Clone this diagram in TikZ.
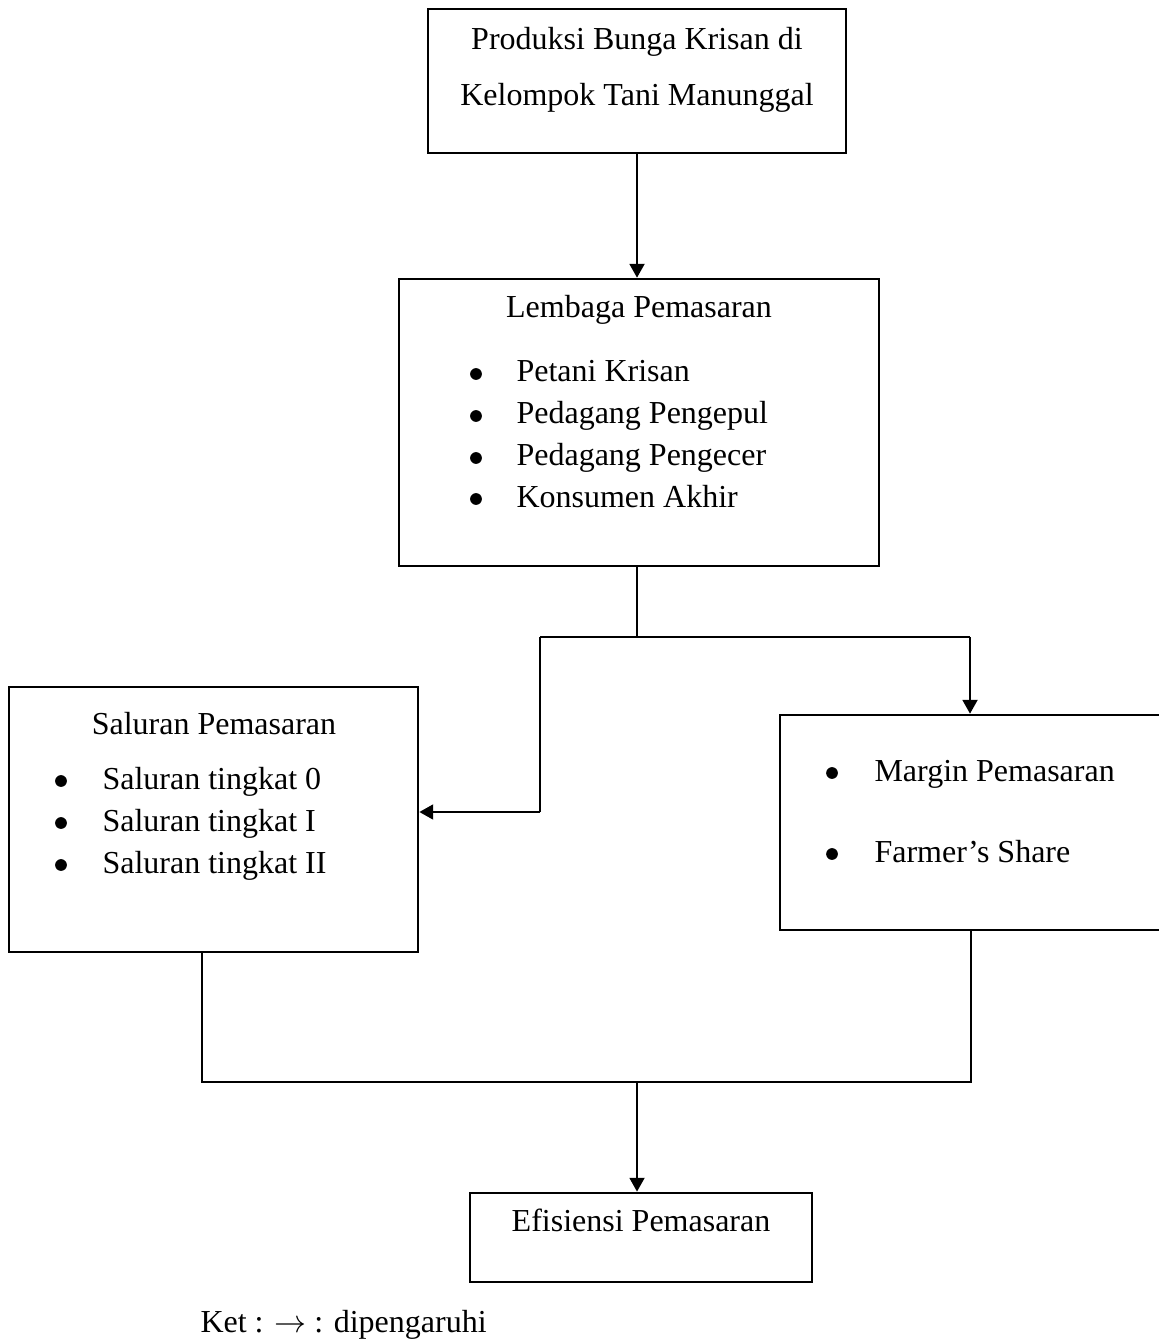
\documentclass[tikz,border=0pt]{standalone}
\usepackage{fontspec}
\setmainfont{Liberation Serif}
\usetikzlibrary{arrows.meta,positioning}

\begin{document}
\begin{tikzpicture}[x=0.375pt,y=-0.375pt,
  box/.style={rectangle,draw,line width=1pt,inner sep=0pt},
  txt/.style={inner sep=0pt,font=\fontsize{12}{14}\selectfont},
  item/.style={txt,anchor=base west},
  dot/.style={circle,fill,inner sep=0pt,minimum size=4.4pt},
  arr/.style={-{Triangle[length=5.2pt,width=5.6pt]},line width=0.8pt},
  thin/.style={line width=0.45pt}]
\useasboundingbox (0,0) rectangle (1158,1340);
% boxes
\node[box,minimum width=156.75pt,minimum height=54pt] (prod) at (637,81) {};
\node[box,minimum width=180pt,minimum height=107.6pt] (lembaga) at (639,422.5) {};
\node[box,minimum width=153.4pt,minimum height=99.4pt] (saluran) at (213.5,819.5) {};
\node[box,minimum width=144.4pt,minimum height=80.6pt] (margin) at (972.5,822.5) {};
\node[box,minimum width=128.25pt,minimum height=33.4pt] (efis) at (641,1237.5) {};
% texts
\node[txt,anchor=base] (prod1) at (637,50) {Produksi Bunga Krisan di};
\node[txt,anchor=base] (prod2) at (637,106) {Kelompok Tani Manunggal};
\node[txt,anchor=base] (lembagaT) at (639,318) {Lembaga Pemasaran};
\node[dot] (b1) at (476,374) {};
\node[item] (l1) at (516,382) {Petani Krisan};
\node[dot] (b2) at (476,416) {};
\node[item] (l2) at (516,424) {Pedagang Pengepul};
\node[dot] (b3) at (476,458) {};
\node[item] (l3) at (516,466) {Pedagang Pengecer};
\node[dot] (b4) at (476,499) {};
\node[item] (l4) at (516,507) {Konsumen Akhir};
\node[txt,anchor=base] (saluranT) at (214,734) {Saluran Pemasaran};
\node[dot] (b5) at (61,781) {};
\node[item] (s1) at (102,789) {Saluran tingkat 0};
\node[dot] (b6) at (61,823) {};
\node[item] (s2) at (102,831) {Saluran tingkat I};
\node[dot] (b7) at (61,865) {};
\node[item] (s3) at (102,873) {Saluran tingkat II};
\node[dot] (b8) at (832,773) {};
\node[item] (m1) at (874,781) {Margin Pemasaran};
\node[dot] (b9) at (832,854) {};
\node[item] (m2) at (874,862) {Farmer’s Share};
\node[txt,anchor=base] (efisT) at (641,1231) {Efisiensi Pemasaran};
\node[item] (ket) at (200,1332) {Ket : $\rightarrow$ : dipengaruhi};
% connectors
\coordinate (split) at (637,637);
\coordinate (splitL) at (540,637);
\coordinate (splitR) at (970,637);
\coordinate (bendL) at (540,812);
\coordinate (joinL) at (202,1082);
\coordinate (joinR) at (971,1082);
\coordinate (join) at (637,1083);
\draw[arr] (prod.south -| split) -- (split |- lembaga.north);
\draw[thin] (lembaga.south -| split) -- (split);
\draw[thin] (splitL) -- (splitR);
\draw[thin] (splitL) -- (bendL);
\draw[arr] (bendL) -- (bendL -| saluran.east);
\draw[arr] (splitR) -- (splitR |- margin.north);
\draw[thin] (saluran.south -| joinL) -- (joinL) -- (joinR) -- (margin.south -| joinR);
\draw[arr] (join) -- (join |- efis.north);
\end{tikzpicture}
\end{document}
